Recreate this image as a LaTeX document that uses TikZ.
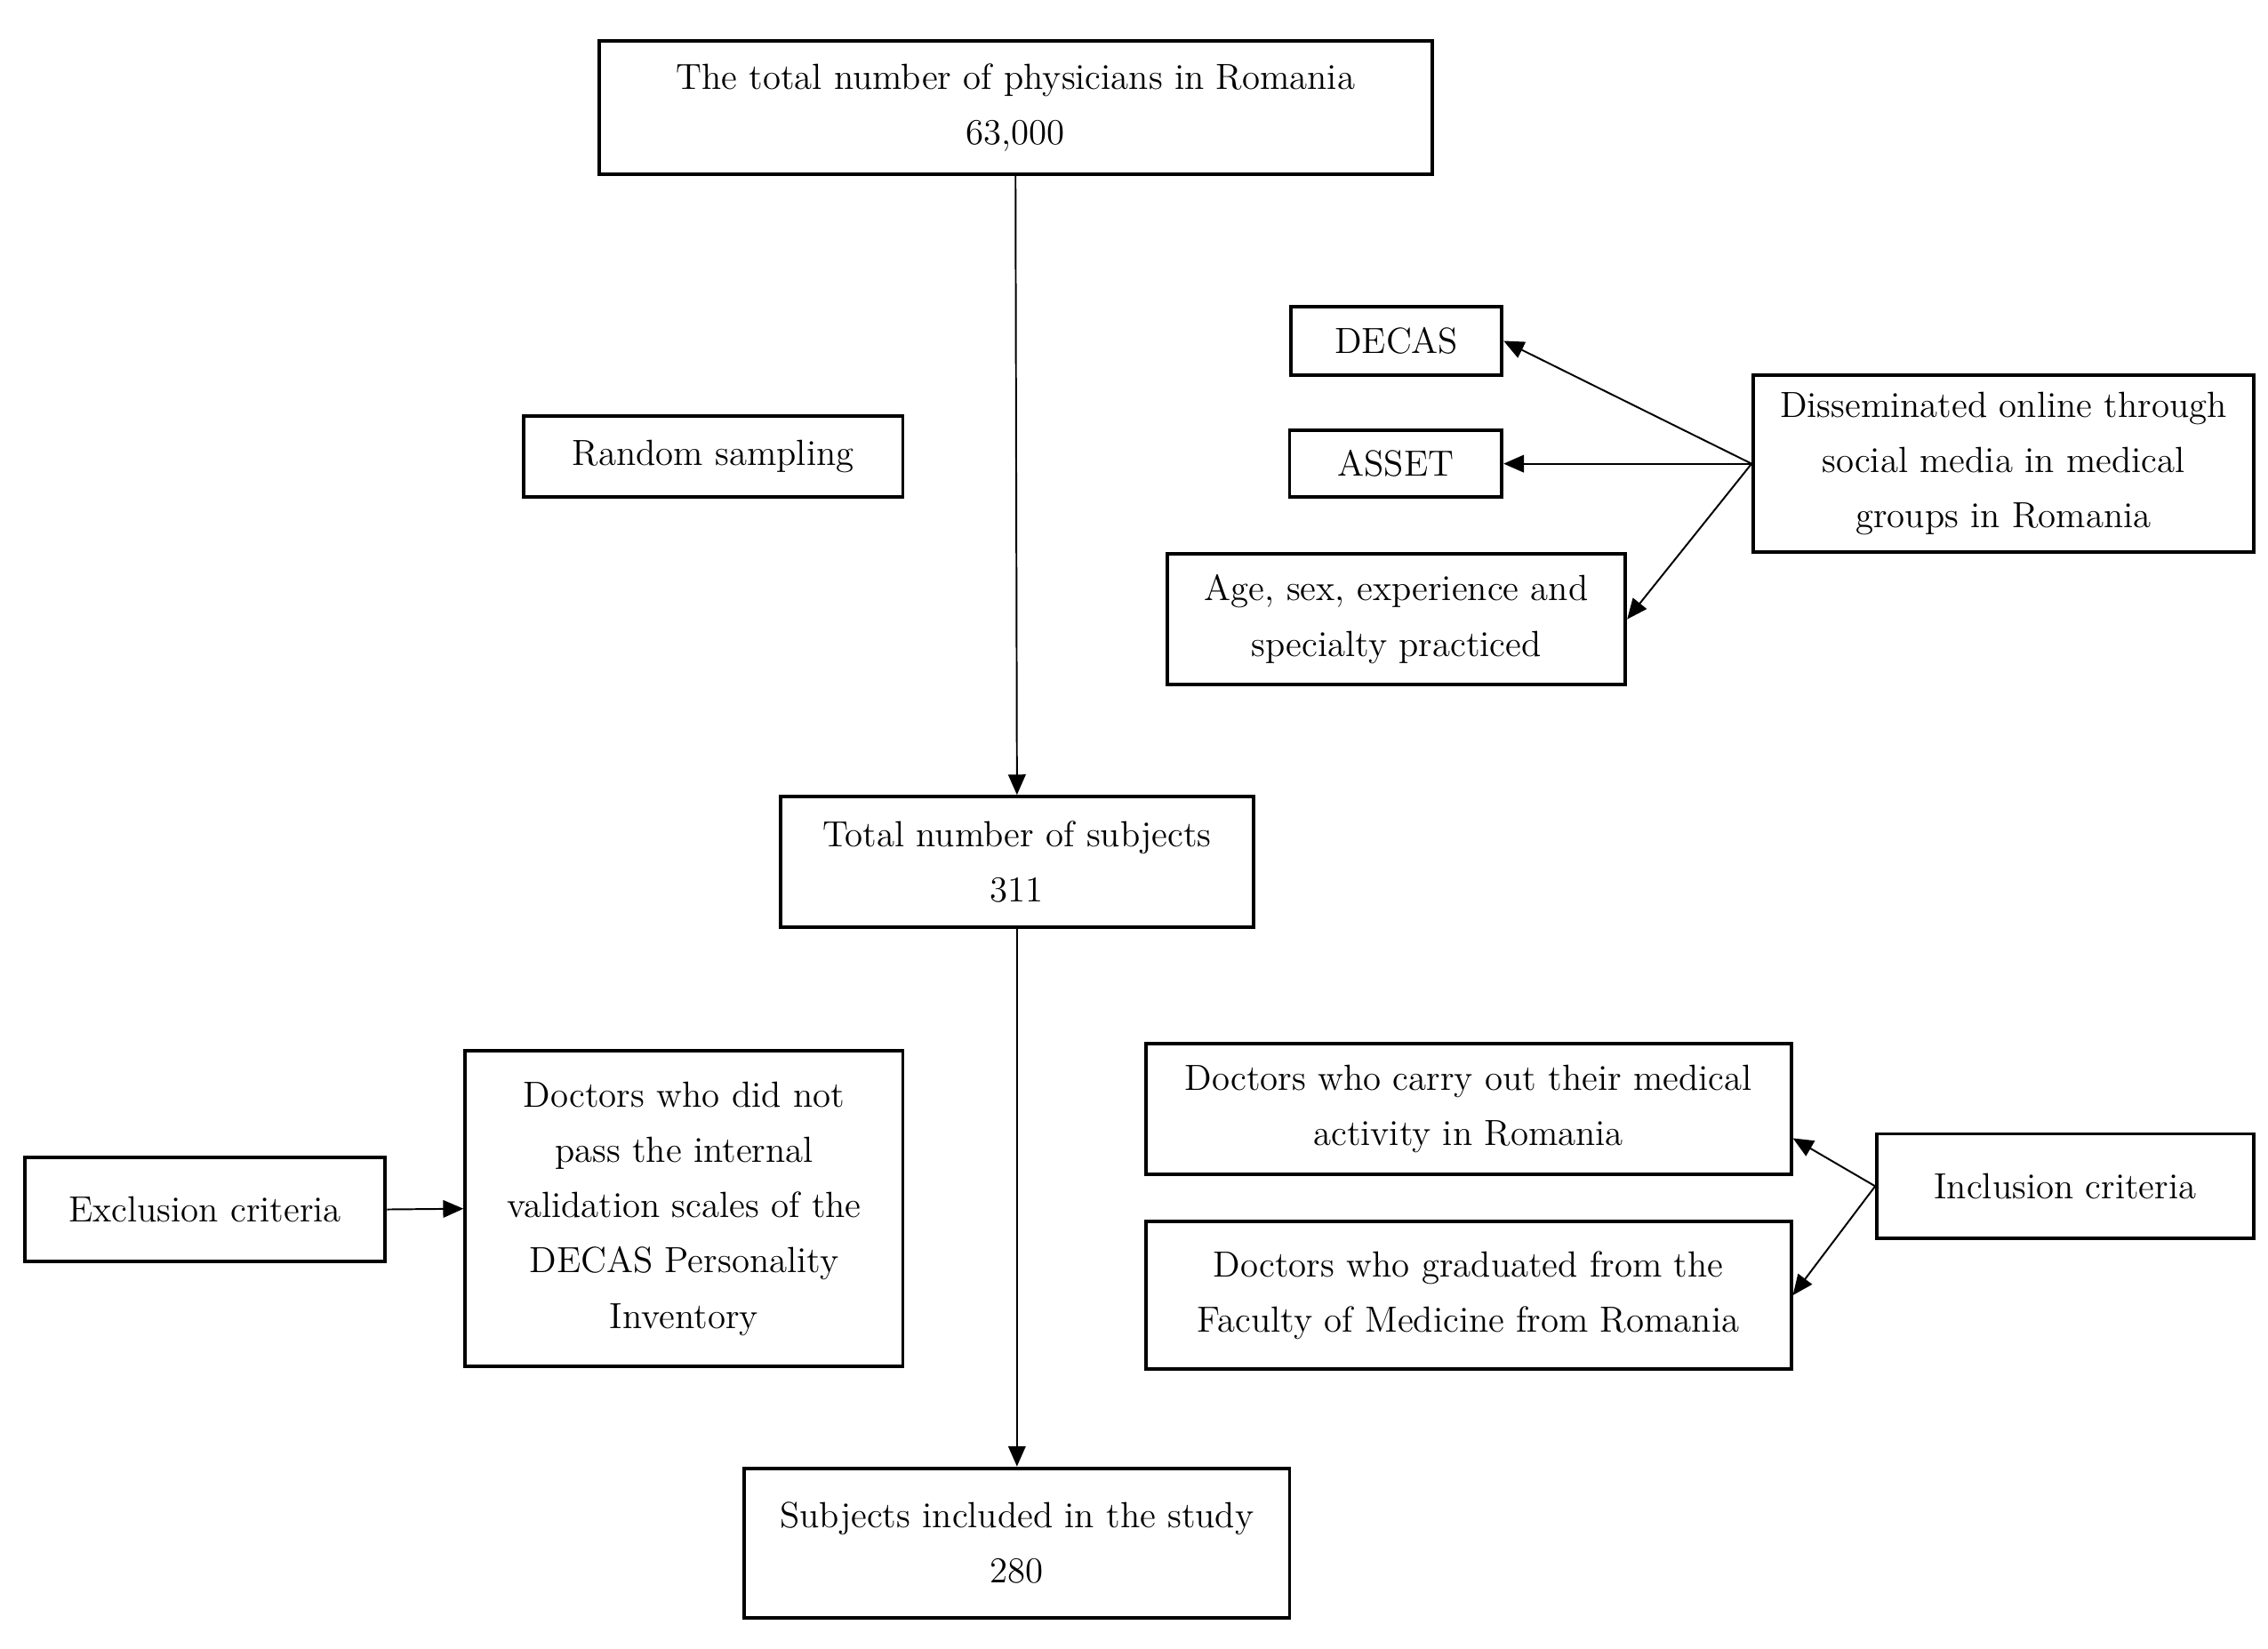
\documentclass[tikz,border=0pt]{standalone}
\usetikzlibrary{arrows.meta}
\begin{document}
\begin{tikzpicture}[x=0.5pt,y=-0.5pt,
 box/.style={draw,line width=1.2pt,align=center,font=\fontsize{12.5}{19}\selectfont,inner sep=0pt},
 arr/.style={-{Triangle[length=7pt,width=6pt]},line width=0.6pt}]
\useasboundingbox (0,0) rectangle (1560,1134);
\newcommand\bx[6]{\node[box,minimum width=#4*0.5pt-#2*0.5pt,minimum height=#5*0.5pt-#3*0.5pt] (#1) at ({(#2+#4)/2},{(#3+#5)/2}) {#6};}
\bx{top}{412}{28}{985}{120}{The total number of physicians in Romania\\63,000}
\bx{rand}{360}{286}{621}{342}{Random sampling}
\bx{decas}{888}{211}{1033}{258}{DECAS}
\bx{asset}{887}{296}{1033}{342}{ASSET}
\bx{age}{803}{381}{1118}{471}{Age, sex, experience and\\specialty practiced}
\bx{diss}{1206}{258}{1550}{380}{Disseminated online through\\social media in medical\\groups in Romania}
\bx{tot}{537}{548}{862}{638}{Total number of subjects\\311}
\bx{excl}{17}{796}{265}{868}{Exclusion criteria}
\bx{dnp}{320}{723}{621}{940}{Doctors who did not\\pass the internal\\validation scales of the\\DECAS Personality\\Inventory}
\bx{carry}{788}{718}{1232}{808}{Doctors who carry out their medical\\activity in Romania}
\bx{grad}{788}{840}{1232}{942}{Doctors who graduated from the\\Faculty of Medicine from Romania}
\bx{incl}{1291}{780}{1550}{852}{Inclusion criteria}
\bx{subj}{512}{1010}{887}{1113}{Subjects included in the study\\280}
\draw[arr] (top.south) -- (tot.north);
\draw[arr] (tot.south) -- (subj.north);
\draw[arr] (excl.east) -- (dnp.west);
\draw[arr] (diss.west) -- (decas.east);
\draw[arr] (diss.west) -- (asset.east);
\draw[arr] (diss.west) -- (age.east);
\draw[arr] (incl.west) -- ([yshift=-10pt]carry.east);
\draw[arr] (incl.west) -- (grad.east);
\end{tikzpicture}
\end{document}
